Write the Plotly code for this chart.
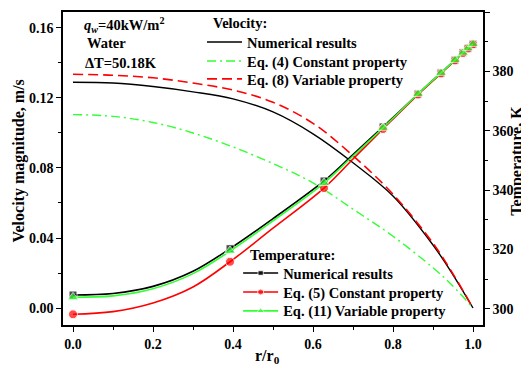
import plotly.graph_objects as go

# ---- Velocity data (left axis) ----
r_vel = [0, 0.1, 0.2, 0.3, 0.4, 0.5, 0.6, 0.7, 0.8, 0.9, 0.95, 1.0]
vel_numerical = [0.129, 0.1285, 0.1265, 0.1235, 0.1195, 0.112, 0.0995, 0.083, 0.064, 0.036, 0.019, 0.0]
vel_eq4_const = [0.1105, 0.1095, 0.106, 0.1, 0.092, 0.0825, 0.0715, 0.0565, 0.041, 0.023, 0.0125, 0.0]
vel_eq8_var = [0.1335, 0.133, 0.1315, 0.1285, 0.1245, 0.1175, 0.1055, 0.087, 0.065, 0.037, 0.0195, 0.0]

# ---- Temperature data (right axis) ----
r_temp = [0, 0.1, 0.2, 0.3, 0.3925, 0.5, 0.6275, 0.7, 0.775, 0.8625, 0.92, 0.955, 0.975, 0.9875, 1.0]
is_marker = [1, 0, 0, 0, 1, 0, 1, 0, 1, 1, 1, 1, 1, 1, 1]
temp_numerical = [304.7, 305.2, 307.6, 312.7, 320.3, 330.4, 343.1, 352.0, 361.3, 372.4, 379.5, 383.8, 386.3, 387.8, 389.2]
temp_eq5_const = [298.2, 299.1, 302.0, 307.4, 315.9, 327.2, 340.7, 350.5, 360.6, 372.2, 379.3, 383.7, 386.2, 387.7, 389.1]
temp_eq11_var = [303.9, 304.4, 306.8, 311.9, 319.5, 329.7, 342.4, 351.5, 361.0, 372.4, 379.5, 383.8, 386.3, 387.8, 389.2]

FONT = "Liberation Serif, Times New Roman, serif"
BLACK = "#000000"
RED = "#ff0000"
GREEN = "#33ff33"

fig = go.Figure()

# Velocity traces
fig.add_trace(go.Scatter(x=r_vel, y=vel_numerical, mode="lines", name="Numerical results",
                         line=dict(color=BLACK, width=1.4, shape="spline"), legend="legend"))
fig.add_trace(go.Scatter(x=r_vel, y=vel_eq4_const, mode="lines", name="Eq. (4) Constant property",
                         line=dict(color=GREEN, width=1.4, dash="9px,4px,2px,4px", shape="spline"),
                         legend="legend2"))
fig.add_trace(go.Scatter(x=r_vel, y=vel_eq8_var, mode="lines", name="Eq. (8) Variable property",
                         line=dict(color=RED, width=1.6, dash="10px,5px", shape="spline"), legend="legend3"))

def sizes(s):
    return [s if m else 0 for m in is_marker]

# Temperature traces
fig.add_trace(go.Scatter(x=r_temp, y=temp_numerical, mode="lines+markers", name="Numerical results",
                         line=dict(color=BLACK, width=1.6, shape="spline"),
                         marker=dict(symbol="square", size=sizes(8), color=BLACK),
                         yaxis="y2", legend="legend4"))
fig.add_trace(go.Scatter(x=r_temp, y=temp_eq5_const, mode="lines+markers", name="Eq. (5) Constant property",
                         line=dict(color=RED, width=1.6, shape="spline"),
                         marker=dict(symbol="circle", size=sizes(9), color=RED),
                         yaxis="y2", legend="legend5"))
fig.add_trace(go.Scatter(x=r_temp, y=temp_eq11_var, mode="lines+markers", name="Eq. (11) Variable property",
                         line=dict(color=GREEN, width=1.6, shape="spline"),
                         marker=dict(symbol="triangle-up", size=sizes(10), color=GREEN),
                         yaxis="y2", legend="legend6"))

tickfont = dict(family=FONT, size=14, color=BLACK, weight="bold")
legfont = dict(family=FONT, size=14.5, color=BLACK, weight="bold")

axis_common = dict(showgrid=False, zeroline=False, showline=True, linecolor=BLACK, linewidth=1.6,
                   ticks="outside", ticklen=5, tickwidth=1.4, tickcolor=BLACK, tickfont=tickfont,
                   automargin=False)

def leg(x, y):
    return dict(x=x, y=y, xanchor="left", yanchor="middle", bgcolor="rgba(0,0,0,0)",
                font=legfont, itemwidth=35, borderwidth=0)

fig.update_layout(
    width=521, height=364,
    margin=dict(l=55, r=46, t=4, b=47, autoexpand=False),
    paper_bgcolor="white", plot_bgcolor="white",
    font=dict(family=FONT, color=BLACK),
    xaxis=dict(range=[-0.025, 1.025], tick0=0, dtick=0.2, tickformat=".1f", mirror=True,
               minor=dict(dtick=0.1, ticks="outside", ticklen=3, tickwidth=1.2, tickcolor=BLACK),
               **axis_common),
    yaxis=dict(range=[-0.0097, 0.1691], tick0=0, dtick=0.04, tickformat=".2f",
               minor=dict(dtick=0.02, ticks="outside", ticklen=3, tickwidth=1.2, tickcolor=BLACK),
               **axis_common),
    yaxis2=dict(range=[294.6, 400], tick0=300, dtick=20, overlaying="y", side="right",
                minor=dict(dtick=10, ticks="outside", ticklen=3, tickwidth=1.2, tickcolor=BLACK),
                **axis_common),
    legend=leg(0.331, 0.904),
    legend2=leg(0.331, 0.843),
    legend3=leg(0.331, 0.786),
    legend4=leg(0.417, 0.166),
    legend5=leg(0.417, 0.105),
    legend6=leg(0.417, 0.045),
    showlegend=True,
)

ann_font = dict(family=FONT, size=14.5, color=BLACK, weight="bold")

def note(text, x, y, xanchor="left", size=None, angle=0):
    f = dict(ann_font)
    if size:
        f["size"] = size
    fig.add_annotation(x=x, y=y, xref="paper", yref="paper", xanchor=xanchor, yanchor="middle",
                       showarrow=False, align="left", font=f, text=text, textangle=angle)

# Condition notes
note("<i>q</i><sub><i>w</i></sub>=40kW/m<sup>2</sup>", 0.045, 0.96)
note("Water", 0.052, 0.9)
note("ΔT=50.18K", 0.048, 0.838)
# Legend headings
note("Velocity:", 0.352, 0.965)
note("Temperature:", 0.44, 0.224)
# Axis titles
note("Velocity magnitude, m/s", -0.105, 0.525, xanchor="center", size=16, angle=-90)
note("Temperature, K", 1.081, 0.525, xanchor="center", size=16, angle=-90)
note("r/r<sub>0</sub>", 0.486, -0.102, xanchor="center", size=16)

fig.write_html("out.html")
